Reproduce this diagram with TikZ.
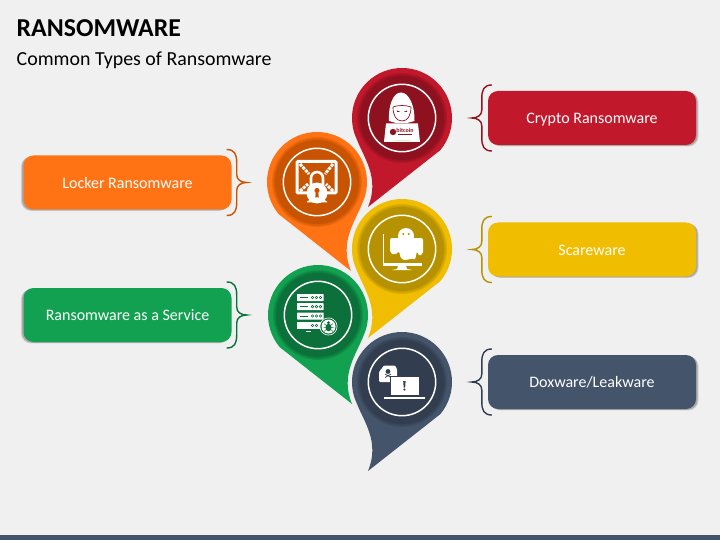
\documentclass[tikz,border=0pt]{standalone}
\usepackage{fontspec}
\setmainfont{Carlito}
\usetikzlibrary{calc, shadows, positioning}
\definecolor{PageGray}{RGB}{240, 240, 240}
\definecolor{StripSlate}{RGB}{68, 84, 106}
\definecolor{CryptoRed}{RGB}{194, 24, 43}
\definecolor{CryptoDark}{RGB}{141, 17, 31}
\definecolor{LockerOrange}{RGB}{255, 115, 21}
\definecolor{LockerDark}{RGB}{200, 83, 0}
\definecolor{ScareYellow}{RGB}{240, 189, 0}
\definecolor{ScareDark}{RGB}{182, 145, 0}
\definecolor{ServiceGreen}{RGB}{18, 161, 80}
\definecolor{ServiceDark}{RGB}{11, 112, 57}
\definecolor{DoxSlate}{RGB}{68, 84, 106}
\definecolor{DoxDark}{RGB}{50, 62, 79}
\tikzset{
  typebox/.style={rectangle, rounded corners=10pt, minimum width=208pt, minimum height=54pt,
    inner sep=0pt, text=white, text height=13.5pt, text depth=2pt, font=\fontsize{16}{19}\selectfont},
  shadowright/.style={
    general shadow={fill=black, opacity=0.12, shadow xshift=2.6pt, shadow yshift=-1.4pt},
    general shadow={fill=black, opacity=0.2, shadow xshift=1.6pt, shadow yshift=-0.8pt}},
  shadowleft/.style={
    general shadow={fill=black, opacity=0.12, shadow xshift=-2.6pt, shadow yshift=-1.4pt},
    general shadow={fill=black, opacity=0.2, shadow xshift=-1.6pt, shadow yshift=-0.8pt}},
  bracket/.style={line width=1.4pt},
  pics/curlybrace/.style={code={
    \draw[bracket, #1] (20,-33) .. controls (12,-33) and (10,-28) .. (10,-20) -- (10,-8)
      .. controls (10,-3) and (6,0) .. (0,0) .. controls (6,0) and (10,3) .. (10,8) -- (10,20)
      .. controls (10,28) and (12,33) .. (20,33);
  }},
}
\begin{document}
\begin{tikzpicture}[x=1pt, y=-1pt]
\useasboundingbox (0,0) rectangle (720,540);
\fill[PageGray] (0,0) rectangle (720,540);
\fill[StripSlate] (0,535) rectangle (720,540);

\node[anchor=base west, inner sep=0pt, font=\bfseries\fontsize{25.8}{30}\selectfont] (title) at (16.5,36.7) {RANSOMWARE};
\node[anchor=base west, inner sep=0pt, font=\fontsize{19.9}{24}\selectfont] (subtitle) at (16.5,65.7) {Common Types of Ransomware};

% map pins
\foreach \pname/\px/\py/\flip/\pincol/\ringcol in {
  crypto/402/118/1/CryptoRed/CryptoDark,
  locker/317/182/-1/LockerOrange/LockerDark,
  scare/402/249/1/ScareYellow/ScareDark,
  service/318/315/-1/ServiceGreen/ServiceDark,
  dox/402/382/1/DoxSlate/DoxDark}{
  \begin{scope}[shift={(\px,\py)}, xscale=\flip]
    \draw[PageGray, line width=6pt, line join=round] (40:50) arc[start angle=40, end angle=-205, radius=50]
      .. controls (-38,40) and (-22,60) .. (-34,89) -- cycle;
    \fill[\pincol] (40:50) arc[start angle=40, end angle=-205, radius=50]
      .. controls (-38,40) and (-22,60) .. (-34,89) -- cycle;
    \foreach \ringr in {45,44,43}{
      \fill[\ringcol, opacity=0.3] (0,0) circle (\ringr);
    }
    \fill[\ringcol] (0,0) circle (42);
    \draw[white, line width=1.5pt] (0,0) circle (33.7);
  \end{scope}
}

% hacker icon
\begin{scope}[shift={(402,118)}]
  \fill[white] (-13,3) .. controls (-14,-12) and (-9,-25.5) .. (-1,-25.5) .. controls (7,-25.5) and (13,-12) .. (12.5,3) -- (5,5) -- (-6,5) -- cycle;
  \draw[CryptoDark, line width=0.7pt] (-9,-11) .. controls (-9,-3) and (-6,3) .. (0,3) .. controls (6,3) and (9,-3) .. (9,-11) .. controls (4,-13) and (-4,-13) .. (-9,-11);
  \fill[CryptoDark] (-5,-7.5) -- (-1.5,-6) -- (-5,-6) -- cycle (5,-7.5) -- (1.5,-6) -- (5,-6) -- cycle;
  \fill[white] (-16,5.5) -- (16,5.5) -- (18,24) -- (-18,24) -- cycle;
  \fill[CryptoDark] (-9,14) circle (3.2);
  \node[inner sep=0pt, text=CryptoDark, font=\bfseries\fontsize{6}{6}\selectfont] (logotext) at (3,12.5) {bitcoin};
  \draw[CryptoDark, line width=0.4pt] (-4,16.5) -- (10,16.5);
  \draw[ScareDark!20!white, line width=0.4pt] (-7,22) -- (9,22);
\end{scope}

% locked screen icon
\begin{scope}[shift={(317,182)}]
  \draw[white, line width=3pt, rounded corners=1pt] (-20,-20.5) rectangle (19,11);
  \fill[LockerDark] (-11,-14) rectangle (11,9);
  \draw[white, line width=2.6pt] (-6,6) -- (-6,-4) arc[start angle=180, end angle=360, radius=6] -- (6,6);
  \draw[white, line width=3pt, dash pattern=on 3pt off 1pt] (-17,-18) -- (-8,-8) (16,-18) -- (8,-8) (-17,9) -- (-9,2) (16,9) -- (9,2);
  \fill[white] (0,11) circle (10.5);
  \fill[LockerDark] (0,8.5) circle (2.6);
  \fill[LockerDark] (-1.2,9) -- (1.2,9) -- (1.8,15.5) -- (-1.8,15.5) -- cycle;
  \fill[white] (-10,19.5) -- (-6,17) -- (6,17) -- (10,19.5) -- (10,20.5) -- (-10,20.5) -- cycle;
\end{scope}

% ghost icon
\begin{scope}[shift={(402,249)}]
  \fill[white] (-19,-15) rectangle (-18,14);
  \fill[white] (-19,14) rectangle (20,17);
  \fill[white] (-4,17) -- (4,17) -- (5,20) -- (10,21) -- (-10,21) -- (-5,20) -- cycle;
  \fill[ScareDark] (-13,-5) rectangle (20.5,13.5);
  \fill[white] (4,-13) circle (8);
  \fill[white, rounded corners=2pt] (-12,-11) -- (21,-11) -- (21,5) -- (17,7) -- (15,2) -- (13,11) -- (9,9) -- (5,11.5) -- (-1,10) -- (-3,2) -- (-7,6) -- (-12,4) -- cycle;
  \fill[ScareDark] (1.3,-15) circle (1.1) (6.8,-15) circle (1.1);
\end{scope}

% server icon
\begin{scope}[shift={(318,315)}]
  \foreach \rowy in {-21,-11.8,-2.5}{
    \fill[white, rounded corners=0.5pt] (-21,\rowy) rectangle (5.5,\rowy+7);
    \draw[ServiceDark, line width=0.7pt] (-18.5,\rowy+3.5) -- (-10.5,\rowy+3.5);
    \foreach \ledx in {-5.5,-1.5,2.5}{
      \draw[ServiceDark, line width=0.6pt] (\ledx,\rowy+3.5) circle (1.3);
    }
  }
  \fill[white] (-21,7) rectangle (3,14);
  \foreach \ledx in {-5.5,-1.5}{
    \draw[ServiceDark, line width=0.6pt] (\ledx,10.5) circle (1.3);
  }
  \fill[white] (-12,16) rectangle (-7,16.8);
  \draw[white, fill=ServiceDark, line width=0.6pt] (10.5,11.5) circle (8.6);
  \fill[white] (10.5,11.5) circle (7);
  \fill[ServiceDark] (10.5,12.5) ellipse (3 and 3.8);
  \draw[ServiceDark, line width=0.5pt] (6,8.5) -- (15,16.5) (15,8.5) -- (6,16.5) (5.5,12.5) -- (15.5,12.5);
  \fill[ServiceDark] (10.5,7.8) circle (1.6);
\end{scope}

% leak icon
\begin{scope}[shift={(402,382)}]
  \fill[white, rounded corners=1pt] (-23,-10) -- (-18,-16.5) -- (-7,-16.5) -- (-5,-13) -- (-5,0) -- (-23,0) -- cycle;
  \fill[DoxDark] (-14,-10.5) circle (2.4);
  \draw[DoxDark, line width=0.7pt] (-17,-8) -- (-11,-4.5) (-11,-8) -- (-17,-4.5);
  \draw[DoxDark, fill=white, line width=1pt] (-12,-5.5) rectangle (17.5,13.8);
  \fill[DoxDark] (1.2,-1) -- (3.6,-1) -- (3.1,5.5) -- (1.7,5.5) -- cycle;
  \fill[DoxDark] (2.4,7.6) circle (1.2);
  \fill[white] (-18,15) rectangle (23,16.6);
\end{scope}

% type boxes
\node[typebox, shadowright, fill=CryptoRed] (cryptobox) at (592,118) {Crypto Ransomware};
\node[typebox, shadowleft, fill=LockerOrange] (lockerbox) at (127.5,182.5) {Locker Ransomware};
\node[typebox, shadowright, fill=ScareYellow] (scarebox) at (592,249.5) {Scareware};
\node[typebox, shadowleft, fill=ServiceGreen] (servicebox) at (127.5,315) {Ransomware as a Service};
\node[typebox, shadowright, fill=DoxSlate] (doxbox) at (592,382) {Doxware/Leakware};

% braces
\pic at ($(cryptobox.west)+(-16,0)$) {curlybrace=CryptoDark!85!CryptoRed};
\pic[xscale=-1] at ($(lockerbox.east)+(15,0)$) {curlybrace=LockerDark};
\pic at ($(scarebox.west)+(-16,0)$) {curlybrace=ScareDark};
\pic[xscale=-1] at ($(servicebox.east)+(15,0)$) {curlybrace=ServiceDark};
\pic at ($(doxbox.west)+(-16,0)$) {curlybrace=DoxDark};
\end{tikzpicture}
\end{document}
